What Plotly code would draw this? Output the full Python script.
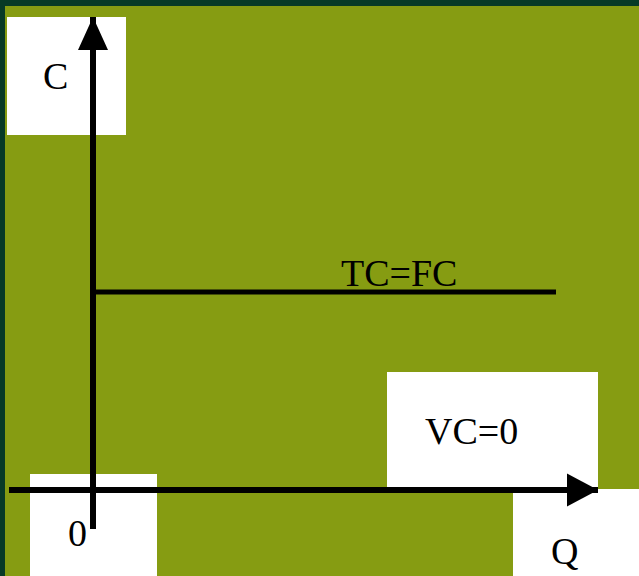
import plotly.graph_objects as go

# diagram values (origin of the C-Q axes at 0,0)
q_axis = [-84, 505]      # horizontal axis extent
c_axis = [-39, 473]      # vertical axis extent
tc_q = [0, 463]          # TC=FC line from / to
tc_level = 198           # fixed cost level

labels = ["C", "0", "Q", "TC=FC", "VC=0"]
label_x = [-38, -16, 471, 306, 378]
label_y = [414, -43, -61, 217, 59]

# white label boxes [x0, y0, x1, y1]
boxes = [
    [-86, 355, 33, 473],
    [-63, -86, 64, 16],
    [294, -3, 505, 118],
    [420, -86, 546, 1],
]

dark = 'rgb(7,58,38)'
olive = 'rgb(134,156,18)'


def arrow_head(tip_x, tip_y, dx, dy, length, half):
    # triangle pointing in (dx, dy) direction with its tip at the axis end
    bx = tip_x - dx * length
    by = tip_y - dy * length
    px, py = -dy, dx
    return ([tip_x, bx + px * half, bx - px * half, tip_x],
            [tip_y, by + py * half, by - py * half, tip_y])


fig = go.Figure()

# axes
fig.add_trace(go.Scatter(x=q_axis, y=[0, 0], mode='lines',
                         line=dict(color='black', width=6)))
fig.add_trace(go.Scatter(x=[0, 0], y=c_axis, mode='lines',
                         line=dict(color='black', width=6)))
hx, hy = arrow_head(q_axis[1], 0, 1, 0, 31, 16.5)
fig.add_trace(go.Scatter(x=hx, y=hy, mode='lines', fill='toself',
                         fillcolor='black', line=dict(width=0)))
vx, vy = arrow_head(0, c_axis[1], 0, 1, 33, 15)
fig.add_trace(go.Scatter(x=vx, y=vy, mode='lines', fill='toself',
                         fillcolor='black', line=dict(width=0)))

# TC = FC
fig.add_trace(go.Scatter(x=tc_q, y=[tc_level, tc_level], mode='lines',
                         line=dict(color='black', width=5)))

shapes = [dict(type='rect', xref='x', yref='y', x0=-88, x1=546, y0=-86, y1=484,
               fillcolor=olive, line_width=0, layer='below')]
for b in boxes:
    shapes.append(dict(type='rect', xref='x', yref='y', x0=b[0], y0=b[1], x1=b[2], y1=b[3],
                       fillcolor='white', line_width=0, layer='below'))

annotations = []
for t, x, y in zip(labels, label_x, label_y):
    annotations.append(dict(x=x, y=y, text=t, showarrow=False, xref='x', yref='y',
                            font=dict(family='Liberation Serif', size=38, color='black')))

fig.update_layout(
    width=639, height=576,
    margin=dict(l=0, r=0, t=0, b=0),
    paper_bgcolor=dark, plot_bgcolor='rgba(0,0,0,0)',
    showlegend=False,
    shapes=shapes, annotations=annotations,
    xaxis=dict(range=[-93, 546], visible=False, fixedrange=True),
    yaxis=dict(range=[-86, 490], visible=False, fixedrange=True),
)

fig.write_html("out.html", config={'displayModeBar': False},
               post_script="document.body.style.margin='0';")
